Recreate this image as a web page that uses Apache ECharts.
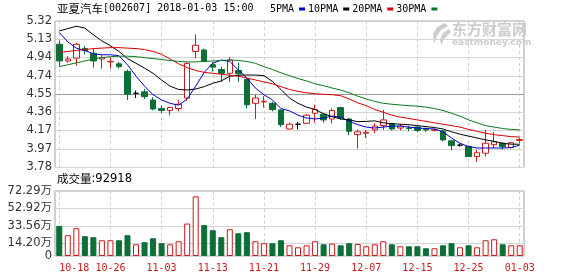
<!DOCTYPE html>
<html><head><meta charset="utf-8">
<script src="https://cdn.jsdelivr.net/npm/echarts@6/dist/echarts.min.js"></script>
<style>html,body{margin:0;padding:0;background:#fff}#c{width:578px;height:276px}</style>
</head><body><div id="c"></div>
<script>
const dates = ['10-18','10-19','10-20','10-23','10-24','10-25','10-26','10-27','10-30','10-31',
'11-01','11-02','11-03','11-06','11-07','11-08','11-09','11-10','11-13','11-14','11-15','11-16','11-17','11-20','11-21','11-22','11-23','11-24','11-27','11-28','11-29','11-30',
'12-01','12-04','12-05','12-06','12-07','12-08','12-11','12-12','12-13','12-14','12-15','12-18','12-19','12-20','12-21','12-22','12-25','12-26','12-27','12-28','12-29',
'01-02','01-03'];
const openP  = [5.075,4.90,4.93,5.03,4.98,4.92,4.89,4.87,4.79,4.56,4.575,4.49,4.40,4.38,4.40,4.51,5.00,5.015,4.86,4.81,4.77,4.80,4.705,4.455,4.47,4.455,4.385,4.185,4.235,4.245,4.35,4.34,4.29,4.41,4.29,4.125,4.14,4.175,4.22,4.24,4.195,4.195,4.205,4.18,4.17,4.165,4.06,4.015,4.0,3.895,3.93,4.02,4.035,3.99,4.065];
const closeP = [4.90,4.92,5.075,5.01,4.90,4.935,4.895,4.84,4.55,4.56,4.525,4.395,4.38,4.41,4.445,4.875,5.065,4.895,4.835,4.77,4.91,4.765,4.44,4.51,4.475,4.39,4.23,4.235,4.235,4.33,4.39,4.28,4.38,4.30,4.16,4.155,4.15,4.215,4.28,4.185,4.215,4.19,4.17,4.175,4.175,4.07,4.01,4.015,3.895,3.935,4.035,4.05,4.0,4.04,4.075];
const lowP   = [4.84,4.88,4.85,4.97,4.83,4.82,4.82,4.82,4.49,4.51,4.50,4.38,4.35,4.33,4.37,4.48,4.93,4.89,4.79,4.68,4.68,4.68,4.40,4.29,4.41,4.37,4.205,4.18,4.18,4.24,4.25,4.25,4.245,4.28,4.12,3.98,4.09,4.14,4.175,4.17,4.17,4.16,4.15,4.155,4.16,4.055,3.96,4.0,3.89,3.84,3.895,3.985,3.97,3.98,4.04];
const highP  = [5.115,4.95,5.09,5.06,5.03,4.96,4.94,4.89,4.81,4.59,4.605,4.52,4.43,4.41,4.49,4.885,5.18,5.03,4.89,4.84,4.94,4.88,4.72,4.545,4.53,4.47,4.39,4.25,4.26,4.34,4.44,4.35,4.40,4.42,4.30,4.18,4.175,4.245,4.385,4.25,4.235,4.22,4.215,4.20,4.19,4.175,4.07,4.03,4.01,3.965,4.175,4.155,4.04,4.05,4.09];
// volume in 万
const volume = [33.5,23.1,30.9,22.0,20.9,17.5,17.5,17.5,23.1,13.0,15.3,19.7,14.2,13.0,16.4,36.1,66.3,34.3,28.7,20.9,29.8,25.3,26.5,16.4,14.2,14.2,17.5,11.9,9.7,11.9,16.4,13.0,13.8,11.9,14.2,13.4,10.8,13.0,16.4,13.0,10.8,10.8,10.8,8.6,8.6,11.9,14.2,9.7,11.9,9.7,17.5,18.6,13.0,11.9,11.9];
const ma5  = [5.20,5.10,5.035,5.01,4.975,4.965,4.965,4.955,4.86,4.74,4.635,4.545,4.49,4.455,4.435,4.50,4.635,4.78,4.875,4.91,4.895,4.805,4.72,4.615,4.545,4.49,4.40,4.375,4.33,4.30,4.29,4.30,4.32,4.31,4.265,4.23,4.205,4.195,4.205,4.215,4.215,4.205,4.195,4.19,4.185,4.155,4.09,4.035,4.0,3.985,3.985,3.985,3.985,3.99,4.015];
const ma10 = [5.215,5.24,5.265,5.245,5.175,5.11,5.06,5.0,4.925,4.875,4.825,4.77,4.70,4.635,4.60,4.595,4.605,4.63,4.665,4.69,4.74,4.75,4.752,4.752,4.745,4.685,4.60,4.51,4.455,4.415,4.39,4.345,4.315,4.29,4.28,4.262,4.265,4.27,4.25,4.24,4.235,4.23,4.22,4.21,4.20,4.185,4.155,4.13,4.11,4.09,4.07,4.055,4.035,4.025,4.025];
const ma20 = [4.99,5.0,5.01,5.02,5.03,5.035,5.04,5.04,5.035,5.03,5.02,5.0,4.97,4.92,4.87,4.83,4.80,4.78,4.77,4.76,4.75,4.74,4.72,4.70,4.68,4.66,4.63,4.60,4.58,4.565,4.555,4.55,4.545,4.535,4.50,4.46,4.43,4.39,4.36,4.33,4.31,4.295,4.28,4.265,4.25,4.235,4.22,4.205,4.18,4.16,4.14,4.125,4.115,4.105,4.10];
const ma30 = [4.84,4.86,4.88,4.90,4.92,4.935,4.945,4.95,4.95,4.945,4.935,4.925,4.915,4.905,4.895,4.89,4.89,4.895,4.90,4.905,4.91,4.905,4.895,4.875,4.84,4.81,4.775,4.745,4.715,4.69,4.66,4.64,4.615,4.595,4.565,4.53,4.50,4.475,4.455,4.445,4.437,4.43,4.425,4.415,4.40,4.38,4.35,4.32,4.28,4.25,4.22,4.205,4.19,4.18,4.175];
const priceTicks = [3.78,3.97,4.17,4.36,4.55,4.74,4.94,5.13,5.32];
const volTicks = [0,14.20,33.56,52.92,72.29];
const lastVolume = '92918';

const RED = '#cc1a1a', GREEN = '#0d6e36';
const candle = dates.map((d,i)=>[openP[i],closeP[i],lowP[i],highP[i]]);
const volData = volume.map((v,i)=>{
  let up = closeP[i] > openP[i] ? true : closeP[i] < openP[i] ? false : (i === 0 || closeP[i-1] <= closeP[i]);
  return {value: v, itemStyle: up ? {color:'#fff', borderColor: RED, borderWidth: 1} : {color: GREEN, borderColor: GREEN, borderWidth: 1}};
});
const mono = '"DejaVu Sans Mono","Liberation Mono",monospace';
const sans = '"DejaVu Sans","Noto Sans CJK SC",sans-serif';
const hGrid = priceTicks.map(v => v === 4.55 ? '#9a9a9a' : '#d4d4d4');

const chart = echarts.init(document.getElementById('c'), null, {renderer:'canvas'});
const xBase = {
  type:'category', data: dates, boundaryGap: true,
  axisLine:{show:false}, axisTick:{show:false, alignWithLabel:true, interval:5},
  splitLine:{show:true, interval:5, alignWithLabel:true, lineStyle:{color:'#cfcfcf', type:[3,3], width:1}}
};
chart.setOption({
  animation:false,
  backgroundColor:'#fff',
  legend:{
    data:['5PMA','10PMA','20PMA','30PMA'], left:270, top:4, align:'right', icon:'rect',
    itemWidth:6, itemHeight:3, itemGap:3, padding:0, selectedMode:false,
    textStyle:{fontFamily:mono, fontSize:10, color:'#000'}
  },
  grid:[
    {left:55, width:469, top:21, height:146.5, show:true, borderColor:'#a0a0a0', borderWidth:1, backgroundColor:'transparent'},
    {left:55, width:469, top:191, height:65, show:true, borderColor:'#a0a0a0', borderWidth:1, backgroundColor:'transparent'}
  ],
  xAxis:[
    Object.assign({gridIndex:0, axisLabel:{show:false}}, xBase),
    Object.assign({gridIndex:1, axisLabel:{show:true, interval:5, color:RED, fontFamily:mono, fontSize:10, margin:7, alignMinLabel:'left'}}, xBase)
  ],
  yAxis:[
    {gridIndex:0, type:'value', min:3.78, max:5.32, axisLine:{show:false},
     axisTick:{show:false, customValues:priceTicks},
     axisLabel:{customValues:priceTicks, color:'#333', fontFamily:sans, fontSize:11.5, margin:3, formatter:v=>v.toFixed(2)},
     splitLine:{show:true, lineStyle:{color:hGrid, width:1}}},
    {gridIndex:1, type:'value', min:0, max:72.29, axisLine:{show:false},
     axisTick:{show:false, customValues:volTicks},
     axisLabel:{customValues:volTicks, color:'#333', fontFamily:sans, fontSize:11.5, margin:3, formatter:v=> v===0 ? '0' : v.toFixed(2)+'万'},
     splitLine:{show:true, lineStyle:{color:'#d4d4d4', width:1}}}
  ],
  graphic:[
    {type:'text', left:57, top:3, z:10, style:{text:'{a|亚夏汽车}{b|[002607] 2018-01-03 15:00}', rich:{a:{fontFamily:'"Noto Sans CJK SC"', fontSize:11.5, fill:'#000'}, b:{fontFamily:mono, fontSize:10, fill:'#000'}}}},
    {type:'text', left:57, top:173, z:10, style:{text:'{a|成交量}{b|:'+lastVolume+'}', rich:{a:{fontFamily:'"Noto Sans CJK SC"', fontSize:11.5, fill:'#000'}, b:{fontFamily:sans, fontSize:11.5, fill:'#000'}}}},
    {type:'text', left:452, top:22, z:1, style:{text:'东方财富网', font:'bold 15px "Noto Sans CJK SC"', fill:'#cdcdcd'}},
    {type:'text', left:452, top:38, z:1, style:{text:'eastmoney.com', font:'bold 9px "DejaVu Sans"', fill:'#cdcdcd'}},
    {type:'polygon', z:1, shape:{points:[[445,23],[437,27],[433,34],[434,44],[437,36],[441,30],[448,26]]}, style:{fill:'#cdcdcd'}},
    {type:'polygon', z:1, shape:{points:[[449,29],[443,33],[440,39],[441,45],[444,39],[448,35],[451,32]]}, style:{fill:'#cdcdcd'}}
  ],
  series:[
    {type:'candlestick', name:'K', xAxisIndex:0, yAxisIndex:0, data:candle, barWidth:6,
     itemStyle:{color:'#fff', color0:GREEN, borderColor:RED, borderColor0:GREEN, borderColorDoji:'#000', borderWidth:1}},
    {type:'line', name:'5PMA', xAxisIndex:0, yAxisIndex:0, data:ma5, showSymbol:false, symbol:'none', color:'#0000cc', lineStyle:{width:1, color:'#0000cc'}},
    {type:'line', name:'10PMA', xAxisIndex:0, yAxisIndex:0, data:ma10, showSymbol:false, symbol:'none', color:'#000', lineStyle:{width:1, color:'#000'}},
    {type:'line', name:'20PMA', xAxisIndex:0, yAxisIndex:0, data:ma20, showSymbol:false, symbol:'none', color:'#dd0000', lineStyle:{width:1, color:'#dd0000'}},
    {type:'line', name:'30PMA', xAxisIndex:0, yAxisIndex:0, data:ma30, showSymbol:false, symbol:'none', color:'#0a7a1e', lineStyle:{width:1, color:'#0a7a1e'}},
    {type:'bar', name:'VOL', xAxisIndex:1, yAxisIndex:1, data:volData, barWidth:6}
  ]
});
</script></body></html>
